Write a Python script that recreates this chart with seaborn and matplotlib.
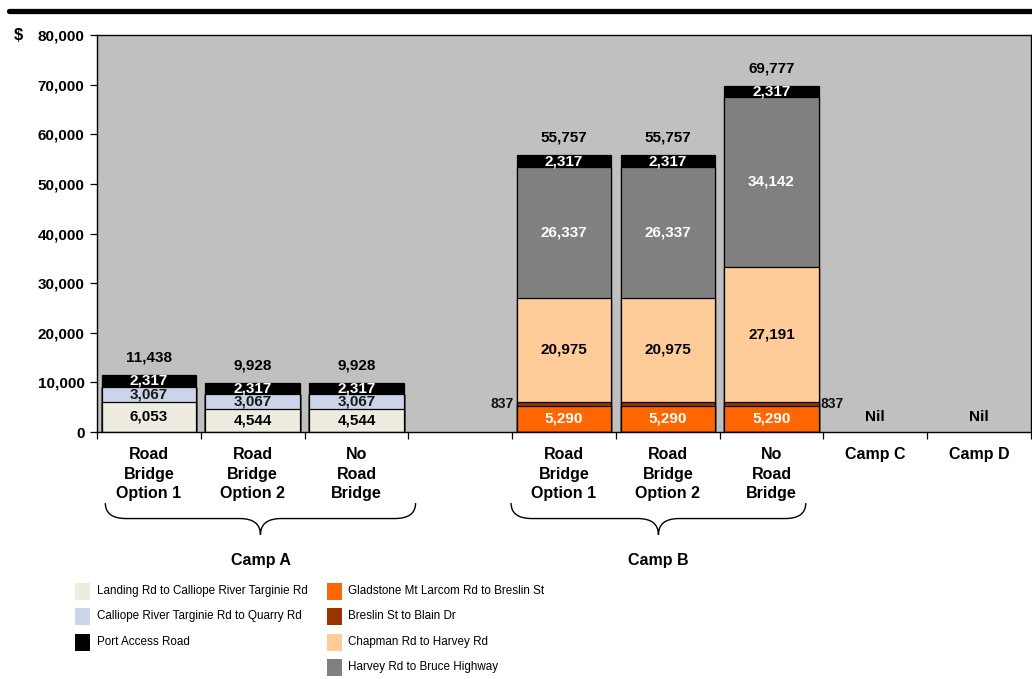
import numpy as np
import pandas as pd
import matplotlib
matplotlib.use("Agg")
import matplotlib.pyplot as plt
import matplotlib.transforms as mtransforms
from matplotlib.path import Path
from matplotlib.patches import PathPatch, Rectangle
from matplotlib.lines import Line2D
import seaborn as sns

# ---- data -------------------------------------------------------------
slots = ["A1", "A2", "A3", "gap", "B1", "B2", "B3", "C", "D"]
slot_labels = ["Road\nBridge\nOption 1", "Road\nBridge\nOption 2", "No\nRoad\nBridge", "",
               "Road\nBridge\nOption 1", "Road\nBridge\nOption 2", "No\nRoad\nBridge",
               "Camp C", "Camp D"]
bar_ids = ["A1", "A2", "A3", "B1", "B2", "B3"]

segment_names = [
    "Landing Rd to Calliope River Targinie Rd",
    "Calliope River Targinie Rd to Quarry Rd",
    "Gladstone Mt Larcom Rd to Breslin St",
    "Breslin St to Blain Dr",
    "Chapman Rd to Harvey Rd",
    "Harvey Rd to Bruce Highway",
    "Port Access Road",
]
landing = [6053, 4544, 4544, 0, 0, 0]
calliope = [3067, 3067, 3067, 0, 0, 0]
gladstone = [0, 0, 0, 5290, 5290, 5290]
breslin = [0, 0, 0, 837, 837, 837]
chapman = [0, 0, 0, 20975, 20975, 27191]
harvey = [0, 0, 0, 26337, 26337, 34142]
port = [2317, 2317, 2317, 2317, 2317, 2317]
totals = [11438, 9928, 9928, 55757, 55757, 69777]

nil_slots = ["C", "D"]
groups = [("Camp A", -0.42, 2.57), ("Camp B", 3.49, 6.33)]

seg_colors = ["#EEECE1", "#CCD4E9", "#FF6600", "#993300", "#FFCC99", "#808080", "#000000"]
seg_text = ["black", "#1a1a1a", "white", None, "black", "white", "white"]

# ---- style ------------------------------------------------------------
sns.set_theme(style="white")
plt.rcParams["font.family"] = ["Liberation Sans", "DejaVu Sans"]
plt.rcParams.update({"text.color": "black", "axes.labelcolor": "black",
                     "xtick.color": "black", "ytick.color": "black"})

fig = plt.figure(figsize=(10.32, 6.79), dpi=100)
ax = fig.add_axes([97 / 1032, 1 - 432 / 679, (1031 - 97) / 1032, (432 - 35) / 679])
ax.set_facecolor("#C0C0C0")

stack = np.array([landing, calliope, gladstone, breslin, chapman, harvey, port], dtype=float)
cum = np.cumsum(stack, axis=0)
df = pd.DataFrame({"slot": bar_ids})

# stacked bars: draw cumulative heights from the top layer down
for i in range(len(segment_names) - 1, -1, -1):
    sns.barplot(data=df.assign(v=cum[i]), x="slot", y="v", order=slots,
                color=seg_colors[i], saturation=1, width=0.91,
                edgecolor="black", linewidth=0.9, ax=ax)

ax.set_xlim(-0.5, len(slots) - 0.5)
ax.set_ylim(0, 80000)
ax.set_xlabel("")
ax.set_ylabel("")

# value labels inside segments
xpos = {s: i for i, s in enumerate(slots)}
for i, name in enumerate(segment_names):
    for j, b in enumerate(bar_ids):
        v = stack[i, j]
        if v <= 0:
            continue
        yc = cum[i, j] - v / 2
        x = xpos[b]
        if seg_text[i] is None:
            # thin segment: label sits beside the outer bars
            if b == "B1":
                ax.annotate(f"{int(v):,}", (x - 0.455, yc), xytext=(-2, 0), textcoords="offset points",
                            ha="right", va="center", fontsize=10, fontweight="bold", color="#111111")
            elif b == "B3":
                ax.annotate(f"{int(v):,}", (x + 0.455, yc), xytext=(1, 0), textcoords="offset points",
                            ha="left", va="center", fontsize=10, fontweight="bold", color="#111111")
            continue
        ax.text(x, yc, f"{int(v):,}", ha="center", va="center", fontsize=11,
                fontweight="bold", color=seg_text[i])

# totals above bars
for j, b in enumerate(bar_ids):
    ax.annotate(f"{totals[j]:,}", (xpos[b], cum[-1, j]), xytext=(0, 12.5), textcoords="offset points",
                ha="center", va="center", fontsize=11, fontweight="bold", color="black")

for s in nil_slots:
    ax.text(xpos[s], 3000, "Nil", ha="center", va="center", fontsize=11, fontweight="bold",
            color="black")

# axes, ticks
ax.set_yticks(np.arange(0, 80001, 10000))
ax.set_yticklabels([f"{int(t):,}" for t in np.arange(0, 80001, 10000)],
                   fontsize=11, fontweight="bold", color="black")
ax.set_xticks(np.arange(-0.5, len(slots), 1.0))
ax.set_xticklabels([])
ax.tick_params(axis="both", direction="out", length=5, width=0.9, color="black",
               labelcolor="black", left=True, bottom=True, pad=4)
for sp in ax.spines.values():
    sp.set_visible(True)
    sp.set_color("black")
    sp.set_linewidth(1.0)

# category labels
for i, lab in enumerate(slot_labels):
    if lab:
        ax.annotate(lab, (i, 0), xytext=(0, -11), textcoords="offset points",
                    ha="center", va="top", fontsize=11.5, fontweight="bold", color="black",
                    linespacing=1.36, annotation_clip=False)

# group braces
trans = mtransforms.blended_transform_factory(ax.transData, ax.transAxes)
yt, ym, yb = -0.179, -0.218, -0.259
r = 0.2
for name, x0, x1 in groups:
    xc = (x0 + x1) / 2
    verts = [(x0, yt), (x0, ym), (x0 + r, ym),
             (xc - r, ym), (xc, ym), (xc, yb),
             (xc, ym), (xc + r, ym),
             (x1 - r, ym), (x1, ym), (x1, yt)]
    codes = [Path.MOVETO, Path.CURVE3, Path.CURVE3,
             Path.LINETO, Path.CURVE3, Path.CURVE3,
             Path.CURVE3, Path.CURVE3,
             Path.LINETO, Path.CURVE3, Path.CURVE3]
    ax.add_patch(PathPatch(Path(verts, codes), transform=trans, fill=False,
                           edgecolor="black", linewidth=1.0, clip_on=False))
    ax.text(xc, -0.324, name, transform=trans, ha="center", va="center",
            fontsize=11.5, fontweight="bold", color="black")

# heading rule and currency sign
fig.add_artist(Line2D([9 / 1032, 1.0], [1 - 10.5 / 679] * 2, color="black", linewidth=3.8))
fig.text(18 / 1032, 1 - 35 / 679, "$", ha="center", va="center", fontsize=12,
         fontweight="bold", color="black")

# legend
W, H = 1032, 679
left_col = [0, 1, 6]
right_col = [2, 3, 4, 5]
rows_y = [591, 616, 642, 667]
for col, (sx, tx) in zip([left_col, right_col], [(75, 97), (327, 348)]):
    for k, idx in enumerate(col):
        y = rows_y[k]
        fig.add_artist(Rectangle((sx / W, 1 - (y + 8.5) / H), 15 / W, 17 / H,
                                 transform=fig.transFigure, facecolor=seg_colors[idx],
                                 edgecolor="none"))
        fig.text(tx / W, 1 - y / H, segment_names[idx], ha="left", va="center",
                 fontsize=8.4, color="black")

fig.savefig("out.png", dpi=100, facecolor="white")
